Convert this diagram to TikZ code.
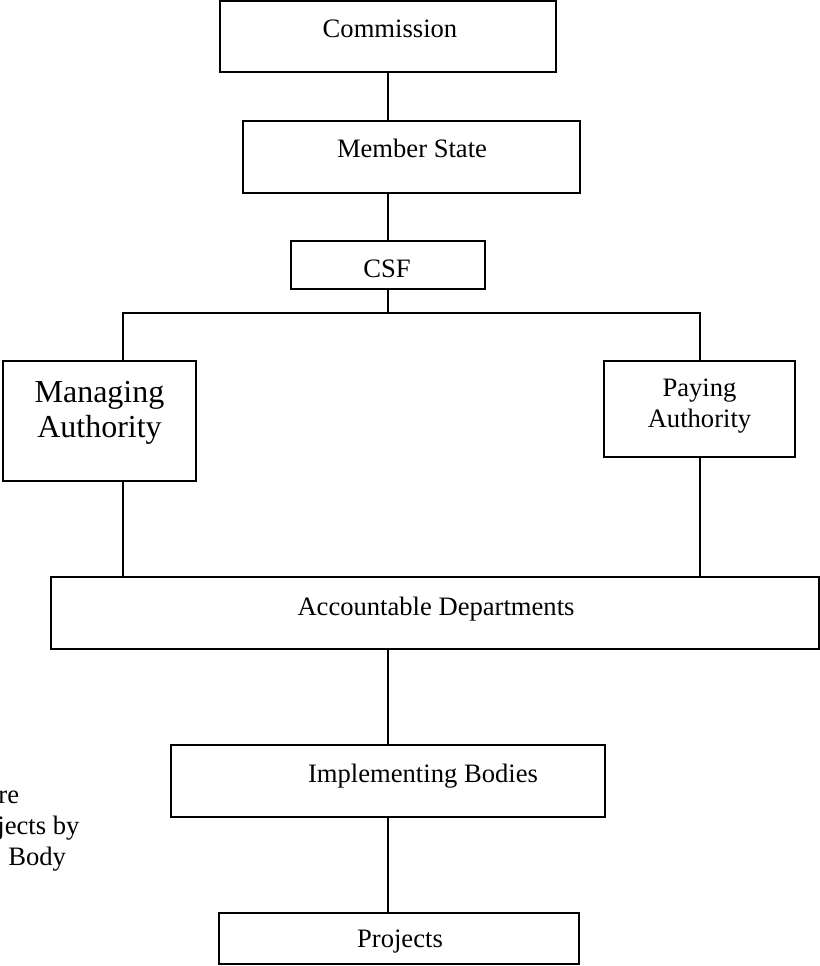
\documentclass[tikz,border=0pt]{standalone}
\usepackage{fontspec}
\setmainfont{Liberation Serif}
\begin{document}
\begin{tikzpicture}[x=0.5pt,y=-0.5pt,
  box/.style={draw,line width=0.75pt,inner sep=0pt,outer sep=0pt,rectangle},
  lbl/.style={anchor=base,inner sep=0pt,font=\fontsize{13.3}{15.3}\selectfont},
  biglbl/.style={anchor=base,inner sep=0pt,font=\fontsize{16}{17.5}\selectfont},
  side/.style={anchor=base west,inner sep=0pt,font=\fontsize{13.3}{15.3}\selectfont},
  link/.style={line width=0.75pt}]
\useasboundingbox (0,0) rectangle (820,966);
\clip (0,0) rectangle (820,966);

% boxes
\node[box,minimum width=168pt,minimum height=35.5pt] (comm) at (388,36.5) {};
\node[box,minimum width=168.5pt,minimum height=36pt] (ms) at (411.5,157) {};
\node[box,minimum width=97pt,minimum height=24pt] (csf) at (388,265) {};
\node[box,minimum width=96.5pt,minimum height=60pt] (ma) at (99.5,421) {};
\node[box,minimum width=95.5pt,minimum height=48pt] (pa) at (699.5,409) {};
\node[box,minimum width=384pt,minimum height=36pt] (ad) at (435,613) {};
\node[box,minimum width=217pt,minimum height=36pt] (ib) at (388,781) {};
\node[box,minimum width=180pt,minimum height=25.5pt] (pr) at (399,938.5) {};

% box texts
\node[lbl] (tcomm) at (390,37) {Commission};
\node[lbl] (tms) at (412,157) {Member State};
\node[lbl] (tcsf) at (387,277) {CSF};
\node[biglbl] (tma1) at (99.5,402) {Managing};
\node[biglbl] (tma2) at (99.5,437) {Authority};
\node[lbl] (tpa1) at (699.5,396) {Paying};
\node[lbl] (tpa2) at (699.5,427) {Authority};
\node[lbl] (tad) at (436,615) {Accountable Departments};
\node[lbl] (tib) at (423,782) {Implementing Bodies};
\node[lbl] (tpr) at (400,947) {Projects};

% side text, running off the left edge
\node[side] (s1) at (-2,803) {re};
\node[side] (s2) at (-3,834) {jects by};
\node[side] (s3) at (8,865) {Body};

% connectors
\coordinate (bus) at (388,313);
\coordinate (busl) at (123,313);
\coordinate (busr) at (700,313);
\draw[link] (comm.south) -- (comm.south |- ms.north);
\draw[link] (csf.north) -- (csf.north |- ms.south);
\draw[link] (csf.south) -- (bus);
\draw[link] (busl |- ma.north) -- (busl) -- (busr) -- (busr |- pa.north);
\draw[link] (busl |- ma.south) -- (busl |- ad.north);
\draw[link] (busr |- pa.south) -- (busr |- ad.north);
\draw[link] (ib.north |- ad.south) -- (ib.north);
\draw[link] (ib.south) -- (ib.south |- pr.north);
\end{tikzpicture}
\end{document}
